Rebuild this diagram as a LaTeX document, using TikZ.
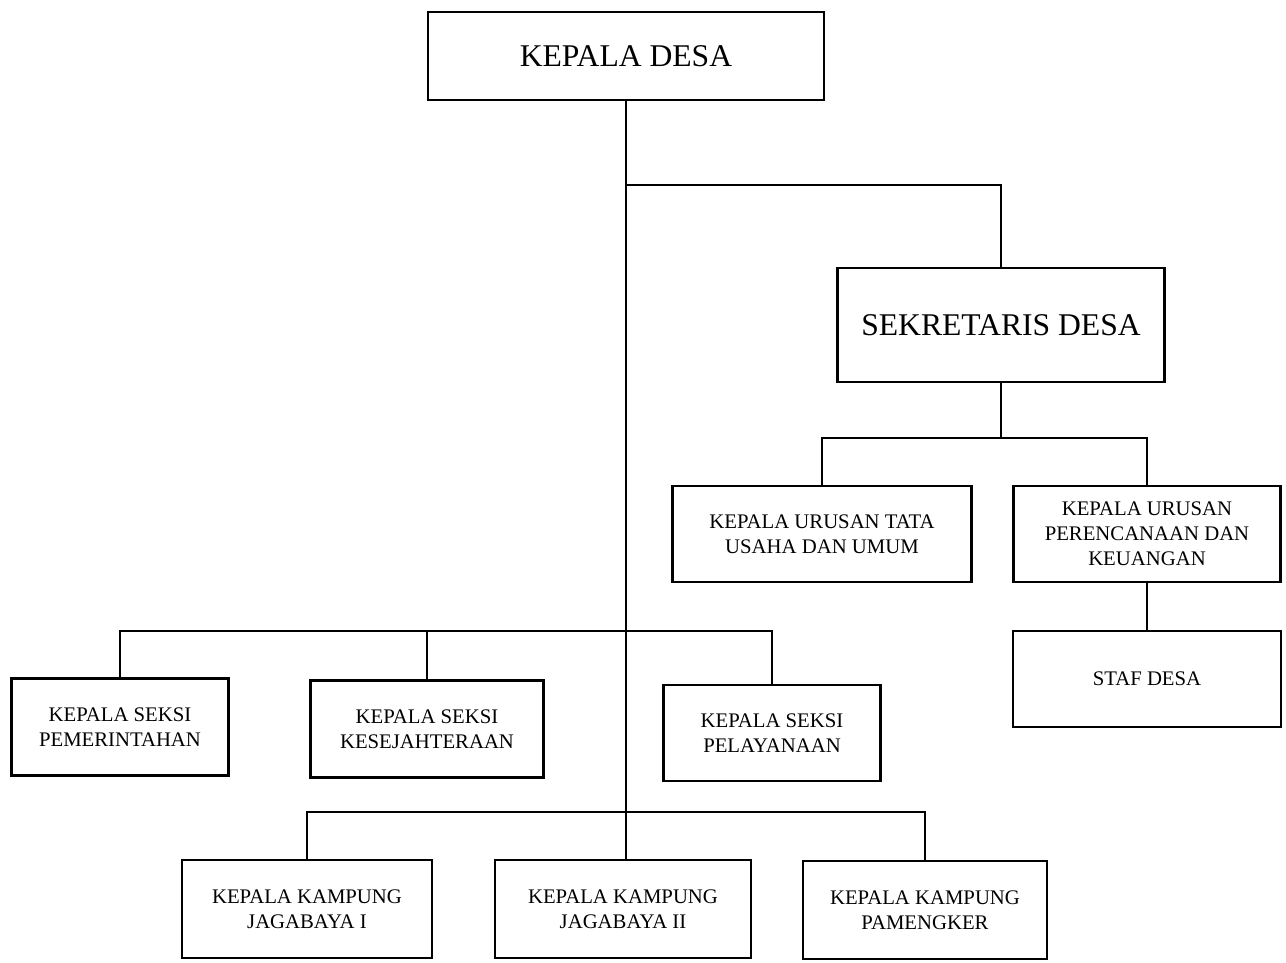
\documentclass[tikz,border=0pt]{standalone}
\usepackage{fontspec}
\setmainfont{Liberation Serif}
\usepackage{tikz}

\tikzset{
  orgbox/.style={draw, line width=1.2pt, align=center, inner sep=0pt,
    font=\fontsize{11.8}{14.2}\selectfont},
  bigbox/.style={orgbox, font=\fontsize{18}{21}\selectfont}
}

\begin{document}
\begin{tikzpicture}[x=0.02cm, y=-0.02cm, line width=1.2pt]
\useasboundingbox (0,0) rectangle (1286,963);
\node[bigbox, minimum width=7.92cm, minimum height=1.76cm] (kades) at (626,56) {KEPALA DESA};
\node[bigbox, minimum width=6.54cm, minimum height=2.28cm] (sekdes) at (1001,325) {SEKRETARIS DESA};
\node[orgbox, minimum width=5.98cm, minimum height=1.92cm] (kaurtu) at (822,534) {KEPALA URUSAN TATA\\USAHA DAN UMUM};
\node[orgbox, minimum width=5.34cm, minimum height=1.92cm] (kaurkeu) at (1147,534) {KEPALA URUSAN\\PERENCANAAN DAN\\KEUANGAN};
\node[orgbox, minimum width=5.36cm, minimum height=1.92cm] (staf) at (1147,679) {STAF DESA};
\node[orgbox, minimum width=4.34cm, minimum height=1.94cm] (kasipem) at (120,727) {KEPALA SEKSI\\PEMERINTAHAN};
\node[orgbox, minimum width=4.66cm, minimum height=1.94cm] (kasikes) at (427,729) {KEPALA SEKSI\\KESEJAHTERAAN};
\node[orgbox, minimum width=4.34cm, minimum height=1.92cm] (kasipel) at (772,733) {KEPALA SEKSI\\PELAYANAAN};
\node[orgbox, minimum width=5.00cm, minimum height=1.96cm] (kk1) at (307,909) {KEPALA KAMPUNG\\JAGABAYA I};
\node[orgbox, minimum width=5.12cm, minimum height=1.96cm] (kk2) at (623,909) {KEPALA KAMPUNG\\JAGABAYA II};
\node[orgbox, minimum width=4.88cm, minimum height=1.96cm] (kk3) at (925,910) {KEPALA KAMPUNG\\PAMENGKER};
\coordinate (jsekdes) at (626,185);
\coordinate (jkaur) at (1001,438);
\coordinate (jkasi) at (626,631);
\coordinate (jkp) at (626,812);
\draw (kades.south) -- (kades.south |- kk2.north);
\draw (jsekdes) -| (sekdes.north);
\draw (sekdes.south) -- (jkaur);
\draw (kaurtu.north) |- (jkaur) -| (kaurkeu.north);
\draw (kaurkeu.south) -- (staf.north);
\draw (kasipem.north) |- (jkasi) -| (kasipel.north);
\draw (kasikes.north) -- (kasikes.north |- jkasi);
\draw (kk1.north) |- (jkp) -| (kk3.north);
\end{tikzpicture}
\end{document}
